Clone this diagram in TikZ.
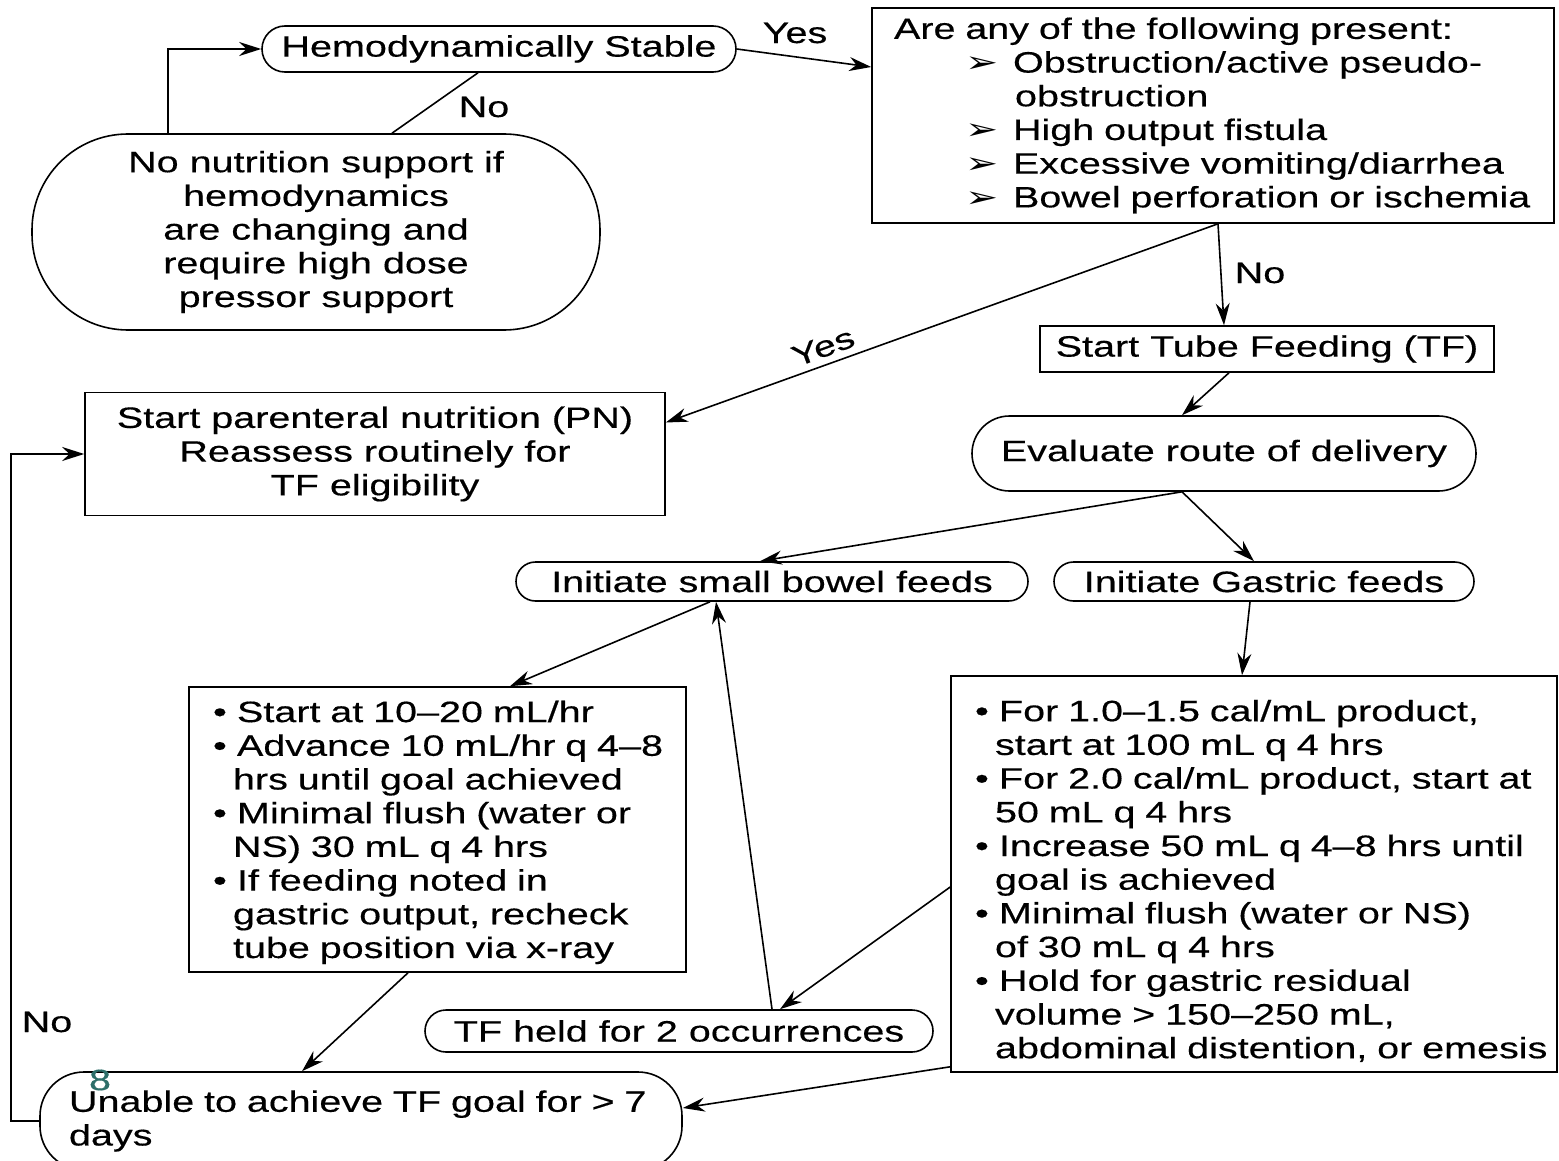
\documentclass[tikz,border=0pt]{standalone}
\usepackage{fontspec}
\setmainfont{Liberation Sans}[FakeStretch=1.34, FakeBold=0.4]
\newfontfamily\arrowfont{DejaVu Sans}[FakeStretch=1.34]
\usetikzlibrary{arrows.meta}
\definecolor{markteal}{RGB}{45,110,105}
\tikzstyle{box}=[draw, line width=0.8pt, inner sep=0pt]
\tikzstyle{pill}=[box, rounded corners=10pt]
\tikzstyle{lbl}=[inner sep=0pt]
\tikzstyle{arrow}=[draw=black, line width=0.8pt, ->, >={Stealth[length=11pt, width=7pt]}]
\tikzstyle{conn}=[draw=black, line width=0.8pt]
\newcommand{\arritem}[1]{\hspace*{42.5pt}\makebox[24pt][l]{\arrowfont ➢}\mbox{#1}}
\newcommand{\arrcont}[1]{\hspace*{67.5pt}\mbox{#1}}
\newcommand{\bitem}[1]{\hspace*{8pt}\makebox[12pt][l]{\textbullet}\mbox{#1}}
\newcommand{\bcont}[1]{\hspace*{18pt}\mbox{#1}}

\begin{document}
\begin{tikzpicture}[x=0.5pt, y=-0.5pt, font=\fontsize{14.75pt}{16.85pt}\selectfont]
		   \useasboundingbox (0,0) rectangle (1559,1161);
		   \clip (0,0) rectangle (1559,1161);
		   \begin{scope}
			   \node (stable) at (499, 49)[pill, minimum width=237pt, minimum height=23pt, rounded corners=11.5pt] {Hemodynamically Stable};
			   \node (present) at (1213, 115.5)[box, minimum width=341pt, minimum height=107.5pt, inner xsep=4pt, text width=333pt, align=left] {\hspace*{7pt}Are any of the following present:\\
				   \arritem{Obstruction/active pseudo-}\\
				   \arrcont{obstruction}\\
				   \arritem{High output fistula}\\
				   \arritem{Excessive vomiting/diarrhea}\\
				   \arritem{Bowel perforation or ischemia}};
			   \node (nosup) at (316, 232)[pill, minimum width=284pt, minimum height=98pt, rounded corners=48pt, align=center] {No nutrition support if\\ hemodynamics\\ are changing and\\ require high dose\\ pressor support};
			   \node (pn) at (375, 454)[box, minimum width=290pt, minimum height=61.5pt, align=center] {Start parenteral nutrition (PN)\\ Reassess routinely for\\ TF eligibility};
			   \node (tf) at (1267, 349)[box, minimum width=227pt, minimum height=23pt] {Start Tube Feeding (TF)};
			   \node (route) at (1224, 453.5)[pill, minimum width=252pt, minimum height=37.5pt, rounded corners=18.75pt] {Evaluate route of delivery};
			   \node (small) at (772, 581.5)[pill, minimum width=256pt, minimum height=19.5pt, rounded corners=9.75pt] {Initiate small bowel feeds};
			   \node (gastric) at (1264, 581.5)[pill, minimum width=210pt, minimum height=19.5pt, rounded corners=9.75pt] {Initiate Gastric feeds};
			   \node (sbsteps) at (437.5, 829.5)[box, minimum width=248.5pt, minimum height=142.5pt, inner xsep=4pt, text width=240.5pt, align=left] {\rule{0pt}{13.6pt}\bitem{Start at 10–20 mL/hr}\\
				   \bitem{Advance 10 mL/hr q 4–8}\\
				   \bcont{hrs until goal achieved}\\
				   \bitem{Minimal flush (water or}\\
				   \bcont{NS) 30 mL q 4 hrs}\\
				   \bitem{If feeding noted in}\\
				   \bcont{gastric output, recheck}\\
				   \bcont{tube position via x-ray}};
			   \node (gsteps) at (1254, 874)[box, minimum width=303pt, minimum height=198pt, inner xsep=4pt, text width=295pt, align=left] {\rule{0pt}{17.6pt}\bitem{For 1.0–1.5 cal/mL product,}\\
				   \bcont{start at 100 mL q 4 hrs}\\
				   \bitem{For 2.0 cal/mL product, start at}\\
				   \bcont{50 mL q 4 hrs}\\
				   \bitem{Increase 50 mL q 4–8 hrs until}\\
				   \bcont{goal is achieved}\\
				   \bitem{Minimal flush (water or NS)}\\
				   \bcont{of 30 mL q 4 hrs}\\
				   \bitem{Hold for gastric residual}\\
				   \bcont{volume > 150–250 mL,}\\
				   \bcont{abdominal distention, or emesis}};
			   \node (held) at (679, 1031)[pill, minimum width=254pt, minimum height=21pt, rounded corners=10.5pt] {TF held for 2 occurrences};
			   \node (unable) at (361, 1121)[pill, minimum width=321pt, minimum height=49pt, rounded corners=22pt, inner xsep=4pt, text width=313pt, align=left] {\hspace*{10.5pt}\mbox{Unable to achieve TF goal for > 7}\\ \hspace*{10.5pt}days};
		   \end{scope}
		   \begin{scope}
			   \node (yes1) at (795, 33)[lbl] {Yes};
			   \node (no1) at (484, 107)[lbl] {No};
			   \node (no2) at (1260, 273)[lbl] {No};
			   \node (yes2) at (823, 347)[lbl, rotate=20] {Yes};
			   \node (no3) at (47, 1022)[lbl] {No};
			   \node (mark) at (100, 1080)[lbl, text=markteal] {8};
		   \end{scope}
		   \begin{scope}
			   \draw [arrow] ([xshift=-74pt]nosup.north) |- (stable.west);
			   \path ([xshift=-10.5pt]stable.south) edge [conn] ([xshift=38pt]nosup.north);
			   \path (stable.east) edge [arrow] ([yshift=24.25pt]present.west);
			   \path ([xshift=2.5pt]present.south) edge [arrow] ([xshift=-21.5pt]tf.north);
			   \path ([xshift=2.5pt]present.south) edge [arrow] ([yshift=15.75pt]pn.east);
			   \path ([xshift=-19pt]tf.south) edge [arrow] ([xshift=-21pt]route.north);
			   \path ([xshift=-21pt]route.south) edge [arrow] ([xshift=-6pt]small.north);
			   \path ([xshift=-21pt]route.south) edge [arrow] ([xshift=-5pt]gastric.north);
			   \path ([xshift=-31pt]small.south) edge [arrow] ([xshift=36.25pt]sbsteps.north);
			   \path ([xshift=-7pt]gastric.south) edge [arrow] ([xshift=-6pt]gsteps.north);
			   \path ([yshift=-6.5pt]gsteps.west) edge [arrow] ([xshift=50.5pt]held.north);
			   \path ([xshift=46.5pt]held.north) edge [arrow] ([xshift=-28pt]small.south);
			   \path ([xshift=-14.75pt]sbsteps.south) edge [arrow] ([xshift=-29.5pt]unable.north);
			   \path ([yshift=3pt]gsteps.south west) edge [arrow] ([yshift=6.5pt]unable.east);
			   \draw [arrow] (unable.west) -- ++(-14pt, 0) |- (pn.west);
		   \end{scope}
\end{tikzpicture}
\end{document}
